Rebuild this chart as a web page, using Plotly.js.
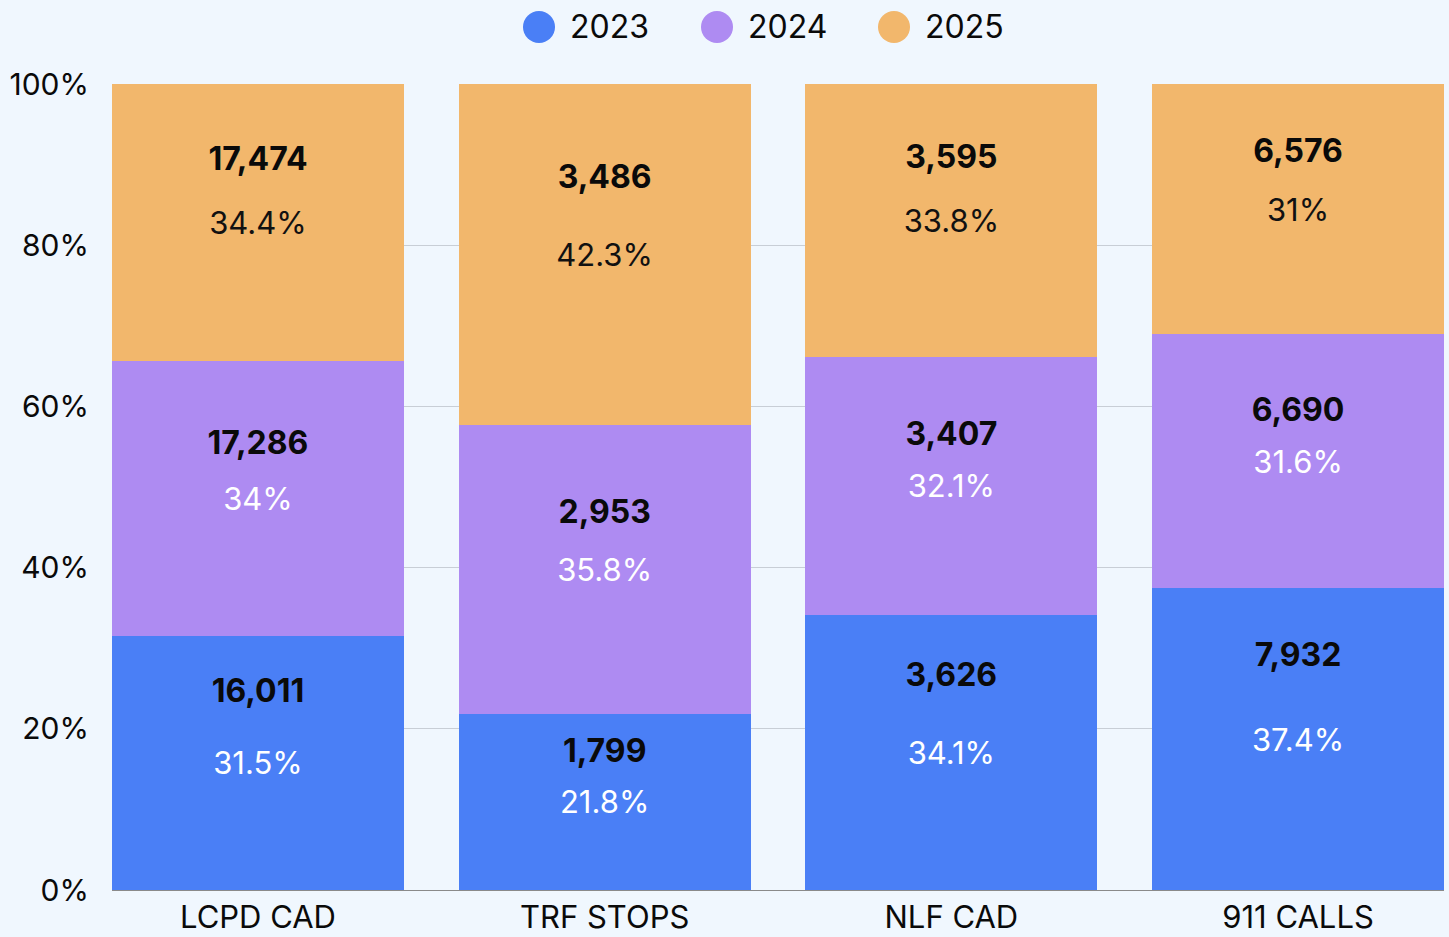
<!DOCTYPE html>
<html>
<head>
<meta charset="utf-8">
<script src="https://cdn.plot.ly/plotly-3.0.1.min.js"></script>
<style>html,body{margin:0;padding:0;background:#f0f7fe;}#chart{width:1449px;height:937px;}</style>
</head>
<body>
<div id="chart"></div>
<script>
const categories = ['LCPD CAD', 'TRF STOPS', 'NLF CAD', '911 CALLS'];
const seriesNames = ['2023', '2024', '2025'];
const values2023 = [16011, 1799, 3626, 7932];
const values2024 = [17286, 2953, 3407, 6690];
const values2025 = [17474, 3486, 3595, 6576];
const seriesColors = ['#4a7ff6', '#ae8bf2', '#f2b76c'];
const pctTextColors = ['#ffffff', '#ffffff', '#111111'];
const yTickVals = [0, 20, 40, 60, 80, 100];
const yTickText = ['0%', '20%', '40%', '60%', '80%', '100%'];

const FONT = 'Inter, "Noto Sans", sans-serif';
const allSeries = [values2023, values2024, values2025];
const countLabelFrac = [0.77, 0.69, 0.72];
const totals = categories.map((c, i) => allSeries.reduce((s, arr) => s + arr[i], 0));
const fmtPct = p => { const r = Math.round(p * 10) / 10; return (r % 1 === 0 ? r.toFixed(0) : r.toFixed(1)) + '%'; };

const traces = [];
const base = categories.map(() => 0);
allSeries.forEach((vals, s) => {
  const pcts = vals.map((v, i) => v / totals[i] * 100);
  traces.push({
    type: 'bar', x: categories, y: vals, name: seriesNames[s],
    marker: {color: seriesColors[s], line: {width: 0}},
    text: pcts.map(fmtPct), textposition: 'inside', insidetextanchor: 'middle',
    textangle: 0, constraintext: 'none',
    textfont: {family: FONT, size: 31, color: pctTextColors[s]},
    showlegend: false, hoverinfo: 'skip'
  });
  // count labels placed within the upper part of each segment
  const ys = pcts.map((p, i) => base[i] + p * countLabelFrac[s]);
  traces.push({
    type: 'scatter', mode: 'text', x: categories, y: ys,
    text: vals.map(v => '<b>' + v.toLocaleString('en-US') + '</b>'),
    textposition: 'middle center',
    textfont: {family: FONT, size: 32, color: '#0a0a0a'},
    showlegend: false, hoverinfo: 'skip', cliponaxis: false
  });
  pcts.forEach((p, i) => base[i] += p);
});

// manual legend with large circle markers
const W = 1449, L = 112, R = 5, T = 84, B = 47;
const pw = W - L - R, ph = 937 - T - B;
const legendCentersPx = [539, 717, 894];
const legendY = 1 + (T - 27) / ph;
const shapes = [], annotations = [];
seriesNames.forEach((n, s) => {
  const cx = (legendCentersPx[s] - L) / pw;
  shapes.push({type: 'circle', xref: 'paper', yref: 'paper', xsizemode: 'pixel', ysizemode: 'pixel',
    xanchor: cx, yanchor: legendY, x0: -16, x1: 16, y0: -16, y1: 16,
    fillcolor: seriesColors[s], line: {width: 0}});
  annotations.push({xref: 'paper', yref: 'paper', x: cx, y: legendY, xshift: 29, xanchor: 'left', yanchor: 'middle',
    text: n, showarrow: false, font: {family: FONT, size: 32, color: '#0a0a0a'}});
});

const layout = {
  width: 1449, height: 937,
  margin: {l: L, r: R, t: T, b: B, pad: 0},
  paper_bgcolor: '#f0f7fe', plot_bgcolor: '#f0f7fe',
  barmode: 'stack', barnorm: 'percent', bargap: 0.158,
  showlegend: false,
  font: {family: FONT, color: '#0a0a0a'},
  xaxis: {type: 'category', range: [-0.421, 3.421], showgrid: false, showline: true,
    linecolor: '#8a8a8a', linewidth: 1, ticks: '', tickfont: {family: FONT, size: 31, color: '#0a0a0a'},
    ticklabelstandoff: 0, fixedrange: true},
  yaxis: {range: [0, 100], tickvals: yTickVals, ticktext: yTickText, showgrid: true,
    gridcolor: '#c8ced6', gridwidth: 1, zeroline: false, showline: false, ticks: '',
    ticklabelstandoff: 22, tickfont: {family: FONT, size: 30, color: '#0a0a0a'}, fixedrange: true},
  shapes: shapes, annotations: annotations
};

Plotly.newPlot('chart', traces, layout, {staticPlot: true, displayModeBar: false});
</script>
</body>
</html>
